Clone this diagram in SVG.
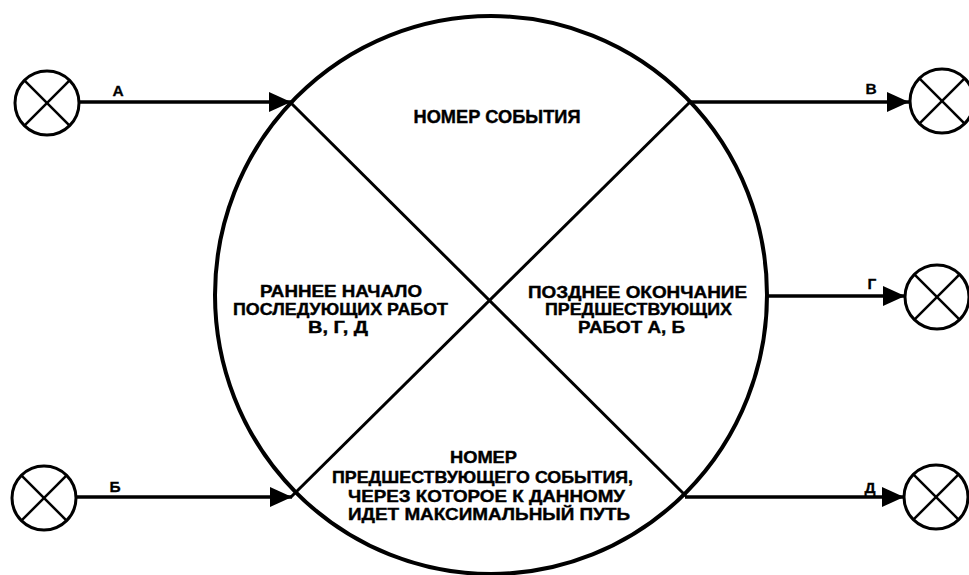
<svg xmlns="http://www.w3.org/2000/svg" width="969" height="575" viewBox="0 0 969 575">
<style>
.bg{fill:#fff}
.main{fill:none;stroke:#000;stroke-width:4}
.div{stroke:#000;stroke-width:3;fill:none}
.node{fill:#fff;stroke:#000;stroke-width:3}
.x{stroke:#000;stroke-width:2.5}
.conn{stroke:#000;stroke-width:3.5;fill:none}
.t{font-family:"Liberation Sans",Arial,sans-serif;font-weight:bold;font-size:16.5px;fill:#000;stroke:#000;stroke-width:0.4;text-anchor:middle}
.h{font-size:18px}
.lbl{font-family:"Liberation Sans",Arial,sans-serif;font-weight:bold;font-size:15.5px;fill:#000;stroke:#000;stroke-width:0.3;text-anchor:middle}
</style>
<defs>
<marker id="arr" markerUnits="userSpaceOnUse" markerWidth="23" markerHeight="22" refX="22" refY="11" orient="auto">
<path d="M0,1 L22,11 L0,21 z" fill="#000"/>
</marker>
</defs>
<rect class="bg" x="0" y="0" width="969" height="575"/>
<g id="event">
<ellipse class="main" cx="491" cy="295" rx="276" ry="279"/>
<line class="div" x1="290" y1="102" x2="686" y2="496"/>
<line class="div" x1="690" y1="102" x2="291" y2="497"/>
<text class="t h" x="497" y="123" textLength="167" lengthAdjust="spacingAndGlyphs">НОМЕР СОБЫТИЯ</text>
<text class="t" x="341" y="297" textLength="162" lengthAdjust="spacingAndGlyphs">РАННЕЕ НАЧАЛО</text>
<text class="t" x="340.5" y="315" textLength="215" lengthAdjust="spacingAndGlyphs">ПОСЛЕДУЮЩИХ РАБОТ</text>
<text class="t" x="338" y="333" textLength="60" lengthAdjust="spacingAndGlyphs">В, Г, Д</text>
<text class="t" x="637.5" y="298" textLength="219" lengthAdjust="spacingAndGlyphs">ПОЗДНЕЕ ОКОНЧАНИЕ</text>
<text class="t" x="638.5" y="315" textLength="187" lengthAdjust="spacingAndGlyphs">ПРЕДШЕСТВУЮЩИХ</text>
<text class="t" x="631.5" y="333" textLength="107" lengthAdjust="spacingAndGlyphs">РАБОТ А, Б</text>
<text class="t" x="483.5" y="463" textLength="67" lengthAdjust="spacingAndGlyphs">НОМЕР</text>
<text class="t" x="482.5" y="483" textLength="301" lengthAdjust="spacingAndGlyphs">ПРЕДШЕСТВУЮЩЕГО СОБЫТИЯ,</text>
<text class="t" x="486.5" y="502" textLength="277" lengthAdjust="spacingAndGlyphs">ЧЕРЕЗ КОТОРОЕ К ДАННОМУ</text>
<text class="t" x="489" y="520" textLength="282" lengthAdjust="spacingAndGlyphs">ИДЕТ МАКСИМАЛЬНЫЙ ПУТЬ</text>
</g>
<g id="nodeA">
<circle class="node" cx="47" cy="103" r="32"/>
<line class="x" x1="24.4" y1="80.4" x2="69.6" y2="125.6"/>
<line class="x" x1="69.6" y1="80.4" x2="24.4" y2="125.6"/>
</g>
<g id="nodeB">
<circle class="node" cx="44" cy="498" r="32"/>
<line class="x" x1="21.4" y1="475.4" x2="66.6" y2="520.6"/>
<line class="x" x1="66.6" y1="475.4" x2="21.4" y2="520.6"/>
</g>
<g id="nodeV">
<circle class="node" cx="942" cy="101" r="32"/>
<line class="x" x1="919.4" y1="78.4" x2="964.6" y2="123.6"/>
<line class="x" x1="964.6" y1="78.4" x2="919.4" y2="123.6"/>
</g>
<g id="nodeG">
<circle class="node" cx="937" cy="297" r="32"/>
<line class="x" x1="914.4" y1="274.4" x2="959.6" y2="319.6"/>
<line class="x" x1="959.6" y1="274.4" x2="914.4" y2="319.6"/>
</g>
<g id="nodeD">
<circle class="node" cx="936" cy="497" r="32"/>
<line class="x" x1="913.4" y1="474.4" x2="958.6" y2="519.6"/>
<line class="x" x1="958.6" y1="474.4" x2="913.4" y2="519.6"/>
</g>
<g id="connectors">
<line class="conn" x1="79" y1="102" x2="291" y2="102" marker-end="url(#arr)"/>
<line class="conn" x1="76" y1="497" x2="292" y2="497" marker-end="url(#arr)"/>
<line class="conn" x1="690" y1="102" x2="909" y2="102" marker-end="url(#arr)"/>
<line class="conn" x1="767" y1="296" x2="905" y2="296" marker-end="url(#arr)"/>
<line class="conn" x1="685" y1="497" x2="904" y2="497" marker-end="url(#arr)"/>
<text class="lbl" x="118" y="96">А</text>
<text class="lbl" x="115" y="492">Б</text>
<text class="lbl" x="871" y="94">В</text>
<text class="lbl" x="872" y="289">Г</text>
<text class="lbl" x="870" y="493">Д</text>
</g>
</svg>
